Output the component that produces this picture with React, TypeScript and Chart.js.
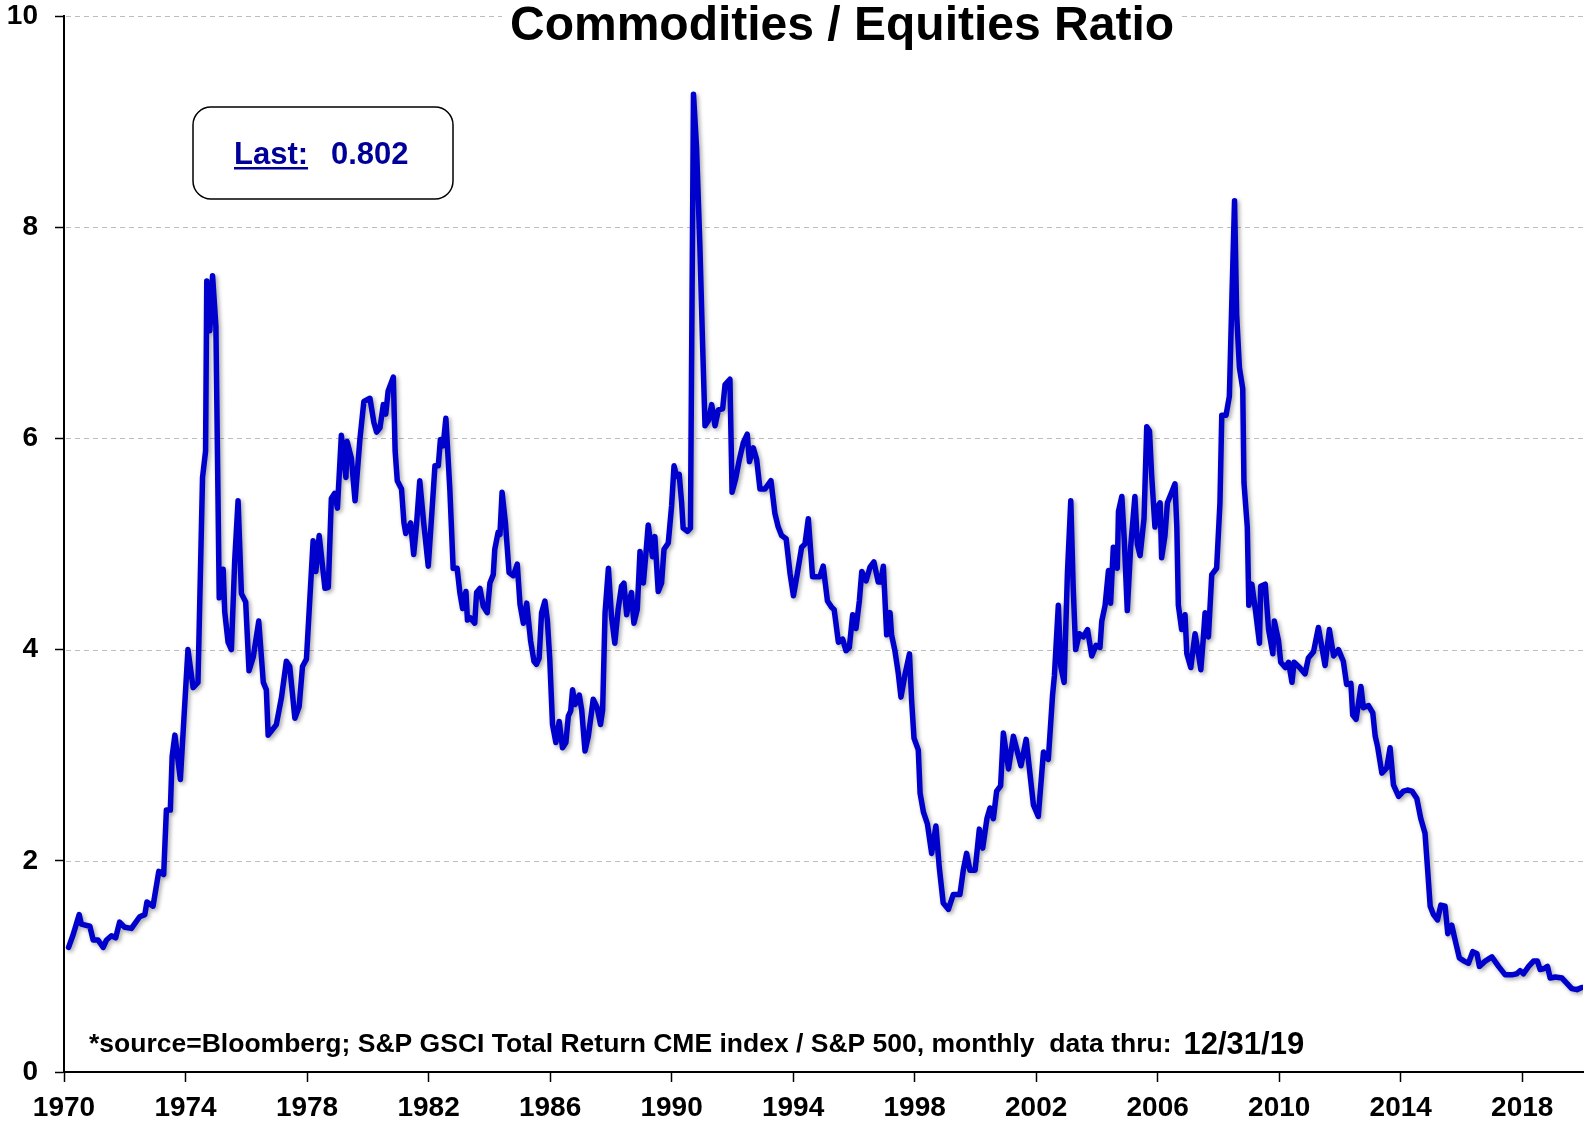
import React, { useEffect, useRef } from "react";
import { Chart, registerables } from "chart.js";

Chart.register(...registerables);

// ---- data ----
const dates: number[] = [
  1970.15, 1970.3, 1970.5, 1970.57, 1970.85, 1970.96, 1971.12, 1971.29, 1971.4, 1971.56, 1971.7, 1971.83,
  1972.0, 1972.22, 1972.49, 1972.66, 1972.73, 1972.93, 1973.12, 1973.28, 1973.37, 1973.5, 1973.56, 1973.65,
  1973.83, 1974.08, 1974.25, 1974.41, 1974.56, 1974.66, 1974.7, 1974.8, 1974.89, 1975.0, 1975.11, 1975.24,
  1975.29, 1975.4, 1975.51, 1975.62, 1975.73, 1975.84, 1975.98, 1976.09, 1976.23, 1976.41, 1976.56, 1976.66,
  1976.72, 1976.99, 1977.16, 1977.32, 1977.43, 1977.6, 1977.74, 1977.85, 1977.98, 1978.2, 1978.29, 1978.4,
  1978.59, 1978.7, 1978.8, 1978.91, 1979.0, 1979.13, 1979.28, 1979.32, 1979.46, 1979.58, 1979.74, 1979.87,
  1980.07, 1980.2, 1980.29, 1980.4, 1980.51, 1980.59, 1980.67, 1980.84, 1980.9, 1980.97, 1981.11, 1981.19,
  1981.25, 1981.41, 1981.51, 1981.6, 1981.71, 1981.84, 1981.99, 1982.1, 1982.21, 1982.32, 1982.39, 1982.48,
  1982.57, 1982.7, 1982.81, 1982.94, 1983.03, 1983.12, 1983.23, 1983.28, 1983.38, 1983.52, 1983.58, 1983.69,
  1983.8, 1983.93, 1984.02, 1984.13, 1984.18, 1984.29, 1984.35, 1984.42, 1984.53, 1984.65, 1984.79, 1984.92,
  1985.01, 1985.12, 1985.23, 1985.36, 1985.47, 1985.55, 1985.64, 1985.72, 1985.83, 1985.91, 1985.99, 1986.08,
  1986.19, 1986.3, 1986.41, 1986.52, 1986.6, 1986.68, 1986.74, 1986.82, 1986.96, 1987.04, 1987.15, 1987.26,
  1987.42, 1987.55, 1987.66, 1987.73, 1987.81, 1987.92, 1988.02, 1988.13, 1988.24, 1988.35, 1988.43, 1988.52,
  1988.61, 1988.68, 1988.76, 1988.87, 1988.96, 1989.07, 1989.16, 1989.23, 1989.31, 1989.37, 1989.45, 1989.56,
  1989.67, 1989.75, 1989.89, 1990.0, 1990.08, 1990.17, 1990.25, 1990.33, 1990.38, 1990.52, 1990.62, 1990.72,
  1990.82, 1990.93, 1991.02, 1991.1, 1991.21, 1991.32, 1991.43, 1991.54, 1991.68, 1991.76, 1991.92, 1991.99,
  1992.11, 1992.23, 1992.36, 1992.49, 1992.56, 1992.69, 1992.8, 1992.91, 1993.07, 1993.27, 1993.4, 1993.51,
  1993.62, 1993.77, 1993.9, 1994.01, 1994.12, 1994.28, 1994.39, 1994.5, 1994.64, 1994.77, 1994.88, 1994.99,
  1995.13, 1995.27, 1995.35, 1995.49, 1995.63, 1995.74, 1995.85, 1995.96, 1996.07, 1996.18, 1996.26, 1996.4,
  1996.53, 1996.66, 1996.8, 1996.88, 1996.97, 1997.08, 1997.19, 1997.24, 1997.35, 1997.46, 1997.55, 1997.68,
  1997.83, 1997.9, 1997.98, 1998.12, 1998.18, 1998.29, 1998.42, 1998.56, 1998.7, 1998.81, 1998.94, 1999.11,
  1999.27, 1999.49, 1999.6, 1999.71, 1999.82, 1999.99, 2000.13, 2000.24, 2000.38, 2000.48, 2000.59, 2000.7,
  2000.83, 2000.92, 2001.09, 2001.25, 2001.5, 2001.67, 2001.91, 2002.07, 2002.24, 2002.4, 2002.54, 2002.6,
  2002.73, 2002.81, 2002.92, 2003.03, 2003.14, 2003.22, 2003.3, 2003.42, 2003.55, 2003.69, 2003.83, 2003.97,
  2004.1, 2004.16, 2004.27, 2004.38, 2004.45, 2004.54, 2004.67, 2004.71, 2004.82, 2004.9, 2005.0, 2005.11,
  2005.25, 2005.33, 2005.42, 2005.55, 2005.64, 2005.73, 2005.8, 2005.91, 2005.99, 2006.08, 2006.13, 2006.24,
  2006.32, 2006.46, 2006.57, 2006.63, 2006.68, 2006.79, 2006.9, 2006.96, 2007.09, 2007.23, 2007.34, 2007.42,
  2007.5, 2007.56, 2007.67, 2007.78, 2007.94, 2008.05, 2008.11, 2008.25, 2008.36, 2008.44, 2008.53, 2008.6,
  2008.69, 2008.8, 2008.84, 2008.95, 2009.0, 2009.1, 2009.21, 2009.35, 2009.39, 2009.54, 2009.65, 2009.79,
  2009.84, 2009.98, 2010.05, 2010.2, 2010.31, 2010.42, 2010.49, 2010.67, 2010.85, 2010.96, 2011.13, 2011.29,
  2011.51, 2011.65, 2011.79, 2011.95, 2012.11, 2012.22, 2012.36, 2012.42, 2012.53, 2012.69, 2012.77, 2012.94,
  2013.08, 2013.16, 2013.24, 2013.38, 2013.54, 2013.65, 2013.76, 2013.93, 2014.09, 2014.22, 2014.37, 2014.53,
  2014.66, 2014.8, 2014.88, 2014.97, 2015.08, 2015.21, 2015.32, 2015.46, 2015.55, 2015.68, 2015.79, 2015.93,
  2016.09, 2016.23, 2016.37, 2016.51, 2016.59, 2016.78, 2017.0, 2017.22, 2017.44, 2017.66, 2017.82, 2017.93,
  2018.04, 2018.21, 2018.37, 2018.5, 2018.59, 2018.72, 2018.83, 2018.92, 2019.09, 2019.31, 2019.47, 2019.63,
  2019.8, 2019.96,
];

const ratio: number[] = [
  1.18, 1.3, 1.49, 1.4, 1.38, 1.25, 1.25, 1.18, 1.25, 1.29, 1.27, 1.42,
  1.37, 1.36, 1.47, 1.49, 1.61, 1.57, 1.9, 1.87, 2.48, 2.48, 2.99, 3.19,
  2.77, 4.0, 3.64, 3.69, 5.63, 5.88, 7.49, 7.02, 7.54, 7.06, 4.49, 4.76,
  4.36, 4.07, 4.0, 4.85, 5.41, 4.53, 4.45, 3.8, 3.93, 4.27, 3.69, 3.62,
  3.19, 3.29, 3.55, 3.89, 3.84, 3.35, 3.46, 3.84, 3.91, 5.03, 4.74, 5.08,
  4.58, 4.59, 5.43, 5.48, 5.34, 6.03, 5.63, 5.97, 5.81, 5.41, 5.99, 6.35,
  6.38, 6.15, 6.06, 6.1, 6.32, 6.23, 6.45, 6.58, 5.88, 5.6, 5.52, 5.2,
  5.1, 5.2, 4.9, 5.17, 5.6, 5.2, 4.79, 5.26, 5.74, 5.74, 5.99, 5.93,
  6.19, 5.52, 4.77, 4.77, 4.54, 4.39, 4.55, 4.28, 4.3, 4.25, 4.54, 4.58,
  4.41, 4.35, 4.63, 4.71, 4.95, 5.11, 5.09, 5.49, 5.2, 4.73, 4.7, 4.81,
  4.43, 4.25, 4.44, 4.08, 3.89, 3.86, 3.92, 4.35, 4.46, 4.28, 3.91, 3.29,
  3.12, 3.32, 3.07, 3.12, 3.37, 3.42, 3.62, 3.48, 3.57, 3.43, 3.04, 3.18,
  3.53, 3.45, 3.29, 3.43, 4.35, 4.77, 4.32, 4.06, 4.38, 4.6, 4.63, 4.33,
  4.47, 4.54, 4.25, 4.38, 4.93, 4.63, 4.93, 5.18, 5.01, 4.88, 5.07, 4.55,
  4.63, 4.95, 5.01, 5.36, 5.74, 5.64, 5.66, 5.39, 5.15, 5.12, 5.15, 9.26,
  8.76, 7.83, 6.89, 6.12, 6.17, 6.32, 6.12, 6.27, 6.28, 6.51, 6.56, 5.49,
  5.62, 5.8, 5.96, 6.04, 5.78, 5.91, 5.8, 5.52, 5.52, 5.6, 5.29, 5.16,
  5.08, 5.05, 4.72, 4.51, 4.69, 4.97, 5.0, 5.24, 4.69, 4.69, 4.69, 4.79,
  4.46, 4.4, 4.38, 4.07, 4.1, 3.99, 4.02, 4.33, 4.2, 4.46, 4.74, 4.65,
  4.78, 4.83, 4.64, 4.64, 4.79, 4.14, 4.35, 4.14, 3.99, 3.78, 3.55, 3.76,
  3.96, 3.52, 3.16, 3.05, 2.64, 2.46, 2.35, 2.07, 2.33, 1.94, 1.6, 1.54,
  1.68, 1.68, 1.91, 2.07, 1.91, 1.91, 2.3, 2.12, 2.4, 2.5, 2.4, 2.66,
  2.71, 3.21, 2.87, 3.18, 2.9, 3.15, 2.53, 2.42, 3.03, 2.96, 3.57, 3.75,
  4.42, 3.84, 3.69, 4.73, 5.41, 4.58, 4.0, 4.15, 4.12, 4.19, 3.94, 4.04,
  4.02, 4.27, 4.42, 4.75, 4.44, 4.97, 4.77, 5.31, 5.45, 5.04, 4.37, 4.97,
  5.45, 5.0, 4.89, 5.24, 6.11, 6.07, 5.66, 5.16, 5.35, 5.39, 4.87, 5.08,
  5.39, 5.49, 5.57, 5.16, 4.42, 4.19, 4.33, 3.96, 3.83, 4.15, 3.96, 3.81,
  4.1, 4.35, 4.12, 4.71, 4.77, 5.39, 6.22, 6.22, 6.4, 7.29, 8.25, 7.17,
  6.67, 6.47, 5.58, 5.16, 4.42, 4.62, 4.39, 4.06, 4.6, 4.62, 4.19, 3.96,
  4.27, 4.08, 3.88, 3.83, 3.88, 3.69, 3.88, 3.83, 3.77, 3.92, 3.98, 4.21,
  3.85, 4.19, 3.94, 4.0, 3.89, 3.67, 3.68, 3.38, 3.34, 3.65, 3.45, 3.47,
  3.4, 3.18, 3.08, 2.83, 2.88, 3.07, 2.72, 2.61, 2.66, 2.67, 2.66, 2.59,
  2.4, 2.26, 1.94, 1.57, 1.49, 1.44, 1.58, 1.57, 1.31, 1.39, 1.25, 1.08,
  1.05, 1.03, 1.14, 1.12, 1.0, 1.05, 1.09, 1.0, 0.92, 0.92, 0.93, 0.96,
  0.93, 1.0, 1.05, 1.05, 0.97, 0.98, 1.0, 0.89, 0.9, 0.89, 0.84, 0.79,
  0.78, 0.8,
];

const xTicks: number[] = [1970, 1974, 1978, 1982, 1986, 1990, 1994, 1998, 2002, 2006, 2010, 2014, 2018];
const yTicks: number[] = [0, 2, 4, 6, 8, 10];

const titleText = "Commodities / Equities Ratio";
const lastLabel = "Last:";
const lastValue = "0.802";
const footerText = "*source=Bloomberg; S&P GSCI Total Return CME index / S&P 500, monthly  data thru:";
const footerDate = "12/31/19";

const FONT = 'Arial, "Liberation Sans", Helvetica, sans-serif';
const LINE_COLOR = "#0000CC";
const TEXT_BLUE = "#000099";

const decorPlugin = {
  id: "decor",
  beforeDatasetsDraw(chart: any) {
    const { ctx, chartArea, scales } = chart;
    ctx.save();
    ctx.strokeStyle = "#BDBDBD";
    ctx.lineWidth = 1;
    ctx.setLineDash([5, 4]);
    for (const v of yTicks) {
      if (v === 0) continue;
      const y = Math.round(scales.y.getPixelForValue(v)) + 0.5;
      ctx.beginPath();
      ctx.moveTo(chartArea.left + 2, y);
      ctx.lineTo(chartArea.right, y);
      ctx.stroke();
    }
    ctx.restore();
  },
  beforeDatasetDraw(chart: any) {
    const ctx = chart.ctx;
    ctx.save();
    ctx.shadowColor = "rgba(0,0,0,0.35)";
    ctx.shadowBlur = 4;
    ctx.shadowOffsetX = 2;
    ctx.shadowOffsetY = 2;
  },
  afterDatasetDraw(chart: any) {
    chart.ctx.restore();
  },
  afterDraw(chart: any) {
    const { ctx } = chart;
    ctx.save();
    // title with white background
    ctx.font = `bold 48px ${FONT}`;
    const tw = ctx.measureText(titleText).width;
    const tcx = 842;
    const tcy = 27;
    ctx.fillStyle = "#FFFFFF";
    ctx.fillRect(tcx - tw / 2 - 8, 2, tw + 16, 48);
    ctx.fillStyle = "#000000";
    ctx.textAlign = "center";
    ctx.textBaseline = "middle";
    ctx.fillText(titleText, tcx, tcy);

    // "Last" box
    const bx = 193, by = 107, bw = 260, bh = 92, r = 18;
    ctx.beginPath();
    ctx.moveTo(bx + r, by);
    ctx.lineTo(bx + bw - r, by);
    ctx.arcTo(bx + bw, by, bx + bw, by + r, r);
    ctx.lineTo(bx + bw, by + bh - r);
    ctx.arcTo(bx + bw, by + bh, bx + bw - r, by + bh, r);
    ctx.lineTo(bx + r, by + bh);
    ctx.arcTo(bx, by + bh, bx, by + bh - r, r);
    ctx.lineTo(bx, by + r);
    ctx.arcTo(bx, by, bx + r, by, r);
    ctx.closePath();
    ctx.fillStyle = "#FFFFFF";
    ctx.fill();
    ctx.strokeStyle = "#000000";
    ctx.lineWidth = 1.5;
    ctx.stroke();

    ctx.font = `bold 31px ${FONT}`;
    ctx.fillStyle = TEXT_BLUE;
    ctx.textAlign = "left";
    ctx.textBaseline = "alphabetic";
    const lx = 234, ly = 164;
    ctx.fillText(lastLabel, lx, ly);
    const lw = ctx.measureText(lastLabel).width;
    ctx.fillRect(lx, ly + 3, lw, 2.5);
    ctx.fillText(lastValue, 331, ly);

    // footer
    ctx.fillStyle = "#000000";
    ctx.font = `bold 26.5px ${FONT}`;
    ctx.textBaseline = "alphabetic";
    ctx.fillText(footerText, 89, 1052);
    const fw = ctx.measureText(footerText).width;
    ctx.font = `bold 31px ${FONT}`;
    ctx.fillText(footerDate, 89 + fw + 12, 1054);
    ctx.restore();
  },
};

export default function App() {
  const canvasRef = useRef<HTMLCanvasElement | null>(null);

  useEffect(() => {
    document.body.style.margin = "0";
    document.body.style.overflow = "hidden";
    const canvas = canvasRef.current;
    if (!canvas) return;
    const points = dates.map((d, i) => ({ x: d, y: ratio[i] }));
    const chart = new Chart(canvas, {
      type: "line",
      data: {
        datasets: [
          {
            label: "Commodities / Equities",
            data: points,
            borderColor: LINE_COLOR,
            borderWidth: 5.5,
            pointRadius: 0,
            tension: 0,
            fill: false,
            borderJoinStyle: "round",
            borderCapStyle: "round",
          },
        ],
      },
      options: {
        responsive: false,
        animation: false,
        events: [],
        layout: { padding: { top: 16, right: 2, left: 0, bottom: 0 } },
        plugins: {
          legend: { display: false },
          tooltip: { enabled: false },
          title: { display: false },
        },
        scales: {
          x: {
            type: "linear",
            min: 1970,
            max: 2020,
            afterBuildTicks: (scale: any) => {
              scale.ticks = xTicks.map((v) => ({ value: v }));
            },
            afterFit: (scale: any) => {
              scale.height = 52;
              scale.paddingLeft = 0;
              scale.paddingRight = 0;
            },
            ticks: {
              autoSkip: false,
              maxRotation: 0,
              minRotation: 0,
              padding: 9,
              color: "#000000",
              font: { family: FONT, size: 28, weight: "bold" },
              callback: (v: any) => String(v),
            },
            grid: {
              drawOnChartArea: false,
              drawTicks: true,
              tickLength: 10,
              tickColor: "#000000",
              tickWidth: 1.5,
            },
            border: { display: true, color: "#000000", width: 2 },
          },
          y: {
            min: 0,
            max: 10,
            afterBuildTicks: (scale: any) => {
              scale.ticks = yTicks.map((v) => ({ value: v }));
            },
            afterFit: (scale: any) => {
              scale.width = 64;
              scale.paddingTop = 0;
              scale.paddingBottom = 0;
            },
            ticks: {
              padding: 17,
              color: "#000000",
              font: { family: FONT, size: 28, weight: "bold" },
              callback: (v: any) => String(v),
            },
            grid: {
              drawOnChartArea: false,
              drawTicks: true,
              tickLength: 9,
              tickColor: "#000000",
              tickWidth: 1.5,
            },
            border: { display: true, color: "#000000", width: 2 },
          },
        },
      } as any,
      plugins: [decorPlugin],
    });
    return () => chart.destroy();
  }, []);

  return (
    <div style={{ width: 1585, height: 1124, background: "#FFFFFF" }}>
      <canvas ref={canvasRef} width={1585} height={1124} style={{ display: "block" }} />
    </div>
  );
}
